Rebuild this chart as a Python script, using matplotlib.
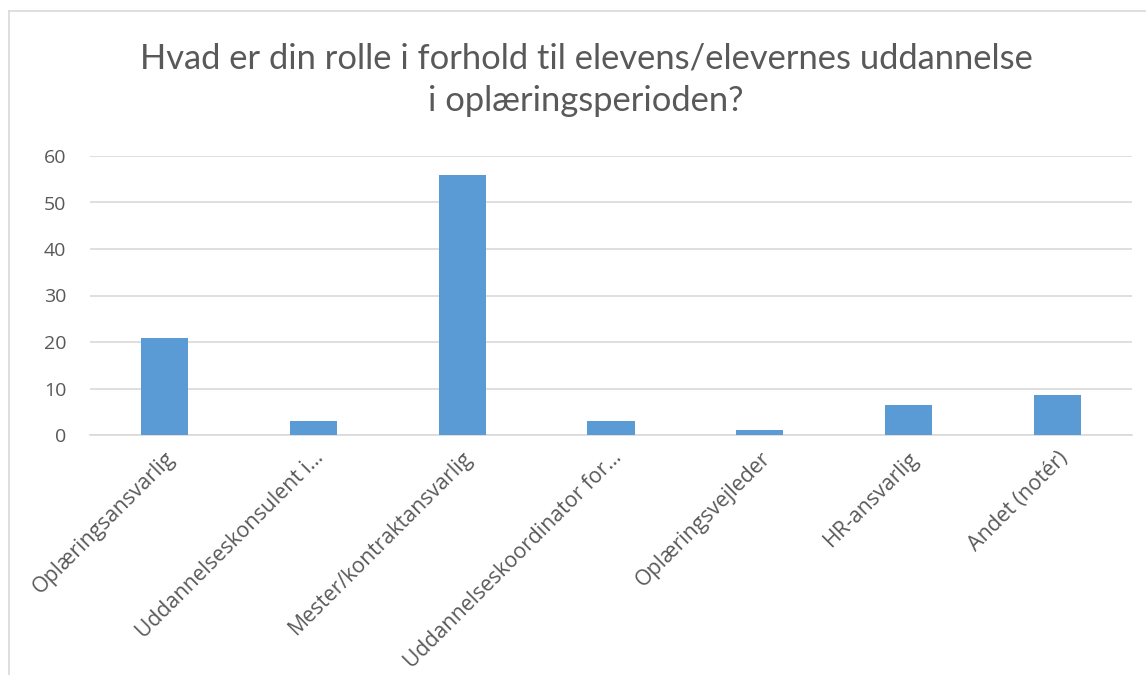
import matplotlib
matplotlib.use("Agg")
import matplotlib.pyplot as plt
import numpy as np

categories = [
    "Oplæringsansvarlig",
    "Uddannelseskonsulent i…",
    "Mester/kontraktansvarlig",
    "Uddannelseskoordinator for…",
    "Oplæringsvejleder",
    "HR-ansvarlig",
    "Andet (notér)",
]
values = [20.8, 3.1, 56.0, 3.1, 1.0, 6.5, 8.7]
y_ticks = [0, 10, 20, 30, 40, 50, 60]

plt.rcParams["font.family"] = ["Open Sans", "DejaVu Sans"]

text_col = "#595959"
bar_col = "#5B9BD5"
grid_col = "#D9D9D9"

fig = plt.figure(figsize=(11.46, 6.75), dpi=100)
ax = fig.add_axes([90 / 1146, 1 - 435 / 675, (1132 - 90) / 1146, (435 - 156) / 675])

x = np.arange(len(categories))
ax.bar(x, values, width=0.316, color=bar_col, zorder=3)

ax.set_xlim(-0.5, len(categories) - 0.5)
ax.set_ylim(0, 60)
ax.set_yticks(y_ticks)
ax.yaxis.grid(True, color=grid_col, linewidth=1.2, zorder=0)
ax.set_axisbelow(True)
for s in ["top", "right", "left"]:
    ax.spines[s].set_visible(False)
ax.spines["bottom"].set_color(grid_col)
ax.spines["bottom"].set_linewidth(1.2)

ax.tick_params(axis="y", length=0, labelsize=14, labelcolor=text_col, pad=17)
ax.tick_params(axis="x", length=0, labelsize=15.3, labelcolor=text_col, pad=9)
ax.set_xticks(x)
ax.set_xticklabels(categories, rotation=45, ha="right", rotation_mode="anchor")

# title, two centred lines
title_font = dict(ha="center", va="center", fontsize=24.8, color=text_col,
                  family=["Lato", "DejaVu Sans"])
fig.text(586 / 1146, 1 - 58 / 675,
         "Hvad er din rolle i forhold til elevens/elevernes uddannelse", **title_font)
fig.text(586 / 1146, 1 - 101 / 675, "i oplæringsperioden?", **title_font)

# chart frame
fig.add_artist(plt.Line2D([9 / 1146, 1], [1 - 11 / 675, 1 - 11 / 675], color=grid_col, linewidth=1.2))
fig.add_artist(plt.Line2D([9 / 1146, 9 / 1146], [0, 1 - 11 / 675], color=grid_col, linewidth=1.2))

fig.savefig("out.png", dpi=100, facecolor="white")
